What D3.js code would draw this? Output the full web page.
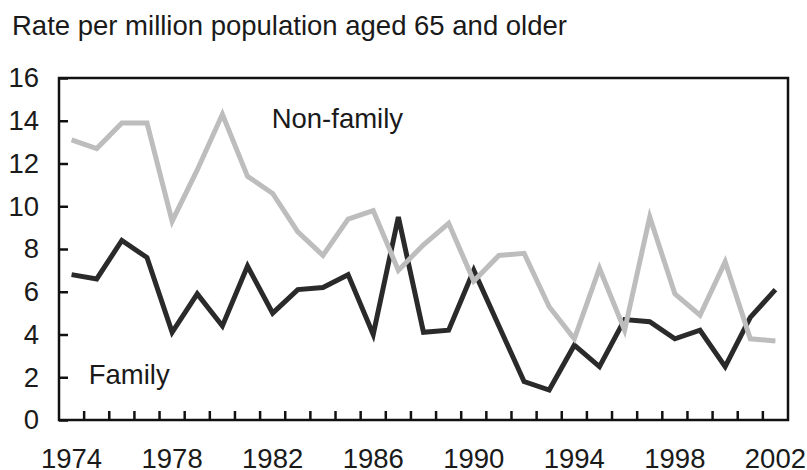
<!DOCTYPE html>
<html>
<head>
<meta charset="utf-8">
<script src="https://cdn.jsdelivr.net/npm/d3@7"></script>
<style>
    body { margin: 0; background: #fff; }
    text { font-family: "Liberation Sans", Arial, sans-serif; fill: #1a1a1a; }
</style>
</head>
<body>
<div class="canvas"></div>
<script>
// data
const years = d3.range(1974, 2003);
const family = [6.8, 6.6, 8.4, 7.6, 4.1, 5.9, 4.4, 7.2, 5.0, 6.1, 6.2, 6.8, 4.0, 9.5, 4.1,
    4.2, 7.0, 4.4, 1.8, 1.4, 3.5, 2.5, 4.7, 4.6, 3.8, 4.2, 2.5, 4.8, 6.1];
const nonFamily = [13.1, 12.7, 13.9, 13.9, 9.3, 11.7, 14.3, 11.4, 10.6, 8.8, 7.7, 9.4, 9.8, 7.0, 8.2,
    9.2, 6.5, 7.7, 7.8, 5.3, 3.8, 7.1, 4.2, 9.5, 5.9, 4.9, 7.4, 3.8, 3.7];
const yTicks = [0, 2, 4, 6, 8, 10, 12, 14, 16];
const yearLabels = [1974, 1978, 1982, 1986, 1990, 1994, 1998, 2002];

// svg
const width = 807;
const height = 470;
const svg = d3.select('.canvas')
    .append('svg')
        .attr('width', width)
        .attr('height', height);

// margins
const margin = {top: 78, right: 19, bottom: 50, left: 59};
const graphWidth = width - margin.left - margin.right;
const graphHeight = height - margin.top - margin.bottom;

const graph = svg.append('g')
    .attr('transform', `translate(${margin.left}, ${margin.top})`);

// scales
const x = d3.scaleBand()
    .domain(years)
    .range([0, graphWidth])
    .padding(0);

const y = d3.scaleLinear()
    .domain([0, 16])
    .range([graphHeight, 0]);

const cx = d => x(d) + x.bandwidth() / 2;

// title
svg.append('text')
    .attr('x', 12)
    .attr('y', 35)
    .attr('font-size', 27.5)
    .text('Rate per million population aged 65 and older');

// y axis (ticks inside the box)
const yAxis = d3.axisLeft(y)
    .tickValues(yTicks)
    .tickSize(-9)
    .tickPadding(20);

const yAxisGroup = graph.append('g').call(yAxis);
yAxisGroup.select('.domain').remove();
yAxisGroup.selectAll('line')
    .attr('stroke', '#111')
    .attr('stroke-width', 2.5);
yAxisGroup.selectAll('text')
    .attr('font-size', 27.5)
    .attr('font-family', '"Liberation Sans", Arial, sans-serif')
    .attr('fill', '#1a1a1a');

// x axis: ticks between years, labels every 4 years
const xAxisGroup = graph.append('g')
    .attr('transform', `translate(0, ${graphHeight})`);

xAxisGroup.selectAll('line.tick')
    .data(years.slice(1))
    .enter()
    .append('line')
        .attr('class', 'tick')
        .attr('x1', d => x(d))
        .attr('x2', d => x(d))
        .attr('y1', 0)
        .attr('y2', -9)
        .attr('stroke', '#111')
        .attr('stroke-width', 2.5);

xAxisGroup.selectAll('text')
    .data(yearLabels)
    .enter()
    .append('text')
        .attr('x', d => cx(d))
        .attr('y', 48)
        .attr('text-anchor', 'middle')
        .attr('font-size', 27.5)
        .text(d => d);

// frame
graph.append('rect')
    .attr('width', graphWidth)
    .attr('height', graphHeight)
    .attr('fill', 'none')
    .attr('stroke', '#111')
    .attr('stroke-width', 2.5);

// lines
const line = d3.line()
    .x((d, i) => cx(years[i]))
    .y(d => y(d));

graph.append('path')
    .datum(family)
    .attr('d', line)
    .attr('fill', 'none')
    .attr('stroke', '#2a2a2a')
    .attr('stroke-width', 5)
    .attr('stroke-linejoin', 'miter');

graph.append('path')
    .datum(nonFamily)
    .attr('d', line)
    .attr('fill', 'none')
    .attr('stroke', '#bdbdbd')
    .attr('stroke-width', 5)
    .attr('stroke-linejoin', 'miter');

// series labels
graph.append('text')
    .attr('x', cx(1982) - 1)
    .attr('y', y(13.65))
    .attr('font-size', 27.5)
    .text('Non-family');

graph.append('text')
    .attr('x', cx(1975) - 8)
    .attr('y', y(1.7))
    .attr('font-size', 27.5)
    .text('Family');
</script>
</body>
</html>
